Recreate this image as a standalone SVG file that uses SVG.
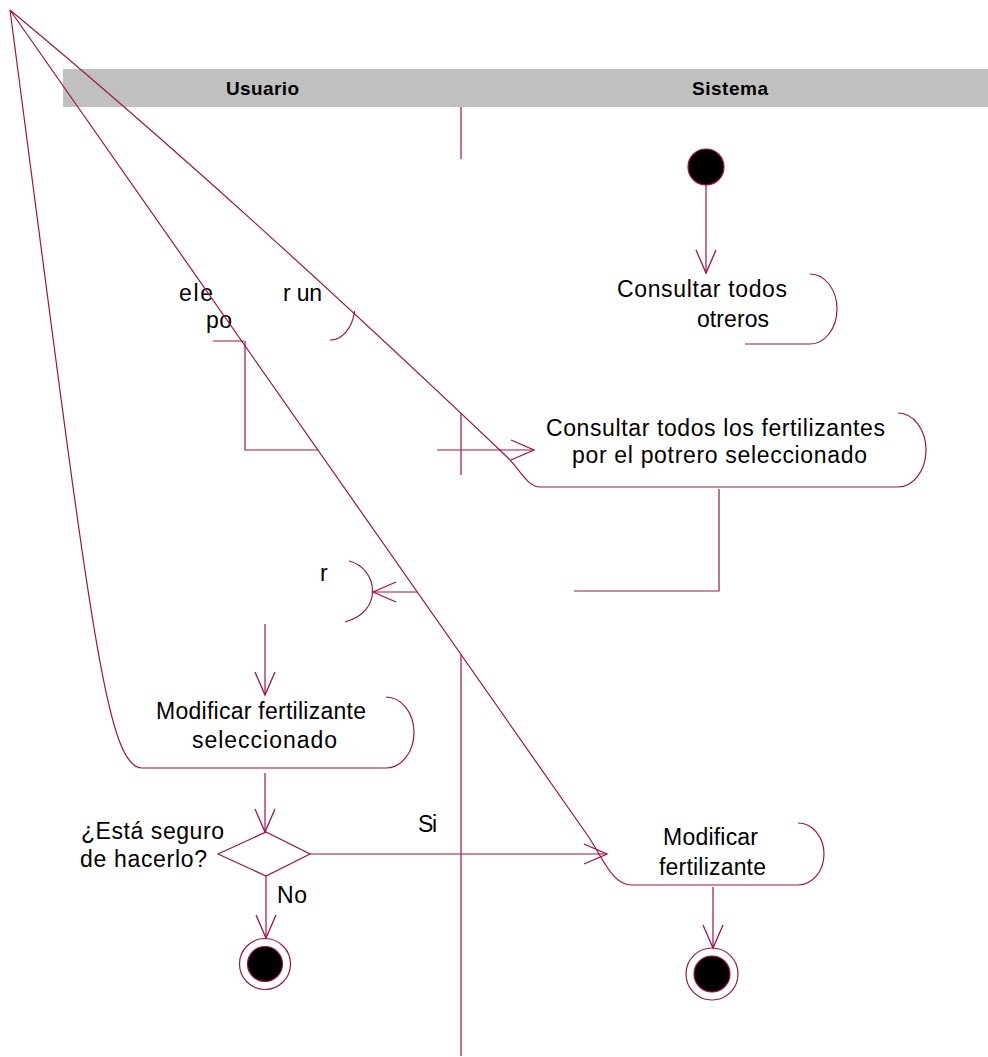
<svg xmlns="http://www.w3.org/2000/svg" width="988" height="1057" viewBox="0 0 988 1057">
<style>
.ln{fill:none;stroke:#9e1448;stroke-width:1.2}
.t{font-family:"Liberation Sans",Arial,sans-serif;font-size:23px;fill:#000}
.h{font-family:"Liberation Sans",Arial,sans-serif;font-size:19px;font-weight:bold;fill:#000}
.blk{fill:#000;stroke:#9e1448;stroke-width:1.2}
</style>
<defs>
<marker id="ah" viewBox="-25 -12 27 24" markerWidth="27" markerHeight="24" refX="0" refY="0" orient="auto" markerUnits="userSpaceOnUse">
<path d="M-23,-10 L0,0 L-23,10" fill="none" stroke="#9e1448" stroke-width="1.3"/>
</marker>
</defs>
<rect x="0" y="0" width="988" height="1057" fill="#fff"/>
<g id="swimlanes">
<rect x="63" y="69" width="925" height="38" fill="#c0c0c0"/>
<text class="h" x="226" y="95" textLength="73" lengthAdjust="spacing">Usuario</text>
<text class="h" x="692" y="95" textLength="76" lengthAdjust="spacing">Sistema</text>
<path class="ln" d="M461,107 V159 M461,413 V475 M461,655 V1056"/>
</g>
<g id="inicio">
<circle class="blk" cx="706" cy="167" r="18"/>
</g>
<g id="consultar-potreros">
<path class="ln" d="M745,344 L810,344 A27,35 0 0 0 810,274"/>
<text class="t" x="617" y="297" textLength="170" lengthAdjust="spacing">Consultar todos</text>
<text class="t" x="697" y="327" textLength="72" lengthAdjust="spacing">otreros</text>
</g>
<g id="seleccionar-potrero">
<path class="ln" d="M213,341 L244,341 M354.6,311 A25,35 0 0 1 330,340"/>
<text class="t" x="179" y="301" textLength="34" lengthAdjust="spacing">ele</text>
<text class="t" x="283" y="301" textLength="39" lengthAdjust="spacing">r un</text>
<text class="t" x="206" y="328" textLength="26" lengthAdjust="spacing">po</text>
</g>
<g id="consultar-fertilizantes">
<path class="ln" d="M10,10 Q220,184 505,455 C520,469 527,487 540,487 L898,487 A28,37 0 0 0 898,413"/>
<text class="t" x="546" y="436" textLength="339" lengthAdjust="spacing">Consultar todos los fertilizantes</text>
<text class="t" x="572" y="463" textLength="295" lengthAdjust="spacing">por el potrero seleccionado</text>
</g>
<g id="seleccionar-fertilizante">
<path class="ln" d="M349,561 C378,568 384,612 345,622"/>
<text class="t" x="320" y="581">r</text>
</g>
<g id="modificar-seleccionado">
<path class="ln" d="M10,10 C89,610 105,768 142,768 L386,768 A28,35.5 0 0 0 386,697"/>
<text class="t" x="156" y="719" textLength="210" lengthAdjust="spacing">Modificar fertilizante</text>
<text class="t" x="192" y="748" textLength="145" lengthAdjust="spacing">seleccionado</text>
</g>
<g id="decision">
<path class="ln" d="M218,854 L266,832 L310,854 L266,876 Z"/>
<text class="t" x="81" y="839" textLength="143" lengthAdjust="spacing">¿Está seguro</text>
<text class="t" x="80" y="867" textLength="127" lengthAdjust="spacing">de hacerlo?</text>
</g>
<g id="modificar">
<path class="ln" d="M10,10 L588,836 C603,858 612,885 632,885 L798,885 A26,31 0 0 0 798,823"/>
<text class="t" x="663" y="845" textLength="95" lengthAdjust="spacing">Modificar</text>
<text class="t" x="659" y="875" textLength="107" lengthAdjust="spacing">fertilizante</text>
</g>
<g id="fin-usuario">
<circle class="ln" cx="265" cy="964" r="25.5"/>
<circle class="blk" cx="265" cy="964" r="17.5"/>
</g>
<g id="fin-sistema">
<circle class="ln" cx="712" cy="974" r="26"/>
<circle class="blk" cx="712" cy="974" r="18"/>
</g>
<g id="connectors">
<path class="ln" d="M706,185 L706,273" marker-end="url(#ah)"/>
<path class="ln" d="M245,341 L245,450 L318,450"/>
<path class="ln" d="M437,450 L534,450" marker-end="url(#ah)"/>
<path class="ln" d="M719,489 L719,591 L574,591"/>
<path class="ln" d="M417,592 L373,592" marker-end="url(#ah)"/>
<path class="ln" d="M265,624 L265,695" marker-end="url(#ah)"/>
<path class="ln" d="M265,773 L265,832" marker-end="url(#ah)"/>
<path class="ln" d="M310,854 L607,854" marker-end="url(#ah)"/>
<text class="t" x="418" y="832" textLength="19" lengthAdjust="spacing">Si</text>
<path class="ln" d="M266,876 L266,938" marker-end="url(#ah)"/>
<text class="t" x="277" y="903" textLength="30" lengthAdjust="spacing">No</text>
<path class="ln" d="M713,887 L713,948" marker-end="url(#ah)"/>
</g>
</svg>
